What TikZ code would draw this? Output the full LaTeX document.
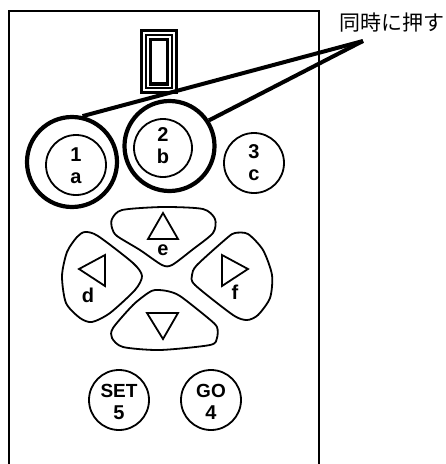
\documentclass[tikz,border=0pt]{standalone}
\usepackage{fontspec}
\usetikzlibrary{calc}
\setmainfont{Liberation Sans}
\newfontfamily\cjk{Noto Sans CJK JP}
\begin{document}
\begin{tikzpicture}[x=1pt,y=-1pt,
  keybtn/.style={circle,draw,line width=1.8pt,inner sep=0pt,minimum size=60pt},
  ring/.style={circle,draw,line width=4.2pt,inner sep=0pt},
  lbl/.style={font=\bfseries\fontsize{20}{20}\selectfont,inner sep=0pt,anchor=base},
  wordlbl/.style={font=\bfseries\fontsize{19}{19}\selectfont,inner sep=0pt,anchor=base},
  pad/.style={draw,line width=1.8pt,line join=round},
  tri/.style={draw,line width=1.8pt,line join=miter},
  callout/.style={line width=4pt},
  frame/.style={line width=2pt}]
\useasboundingbox (0,0) rectangle (446,464);
\clip (0,0) rectangle (446,464);
% body
\draw[frame] (9,470) -- (9,11) -- (319,11) -- (319,470);
% display
\draw[line width=3.2pt] (141.5,30.5) rectangle (176.5,92.5);
\draw[line width=1.2pt] (146,35) rectangle (172,88);
\draw[line width=3.5pt] (150.5,39.5) rectangle (167.5,84);
% buttons 1,2,3
\node[ring,minimum size=90pt] (r1) at (72,162) {};
\node[keybtn] (k1) at (76,165) {};
\node[lbl] (t1) at ($(k1)+(0,-4)$) {1};
\node[lbl] (s1) at ($(k1)+(0,18)$) {a};
\node[ring,minimum size=90pt] (r2) at (169.5,146) {};
\node[keybtn,minimum size=58pt] (k2) at (163,148) {};
\node[lbl] (t2) at ($(k2)+(0,-7)$) {2};
\node[lbl] (s2) at ($(k2)+(0,15)$) {b};
\node[keybtn] (k3) at (254,163) {};
\node[lbl] (t3) at ($(k3)+(0,-5)$) {3};
\node[lbl] (s3) at ($(k3)+(0,17)$) {c};
% SET / GO
\node[keybtn] (k5) at (119,400) {};
\node[wordlbl] (t5) at ($(k5)+(0,-3)$) {SET};
\node[lbl] (s5) at ($(k5)+(0,19)$) {5};
\node[keybtn] (k4) at (211,400) {};
\node[wordlbl] (t4) at ($(k4)+(0,-3)$) {GO};
\node[lbl] (s4) at ($(k4)+(0,19)$) {4};
% callout
\node[font=\cjk\fontsize{21}{21}\selectfont,inner sep=0pt] (note) at (392,23) {同時に押す};
\coordinate (tip) at (363,41);
\draw[callout] (tip) -- (r1.77);
\draw[callout] (tip) -- (r2.33);
% d-pad
\draw[pad] plot[smooth cycle,tension=0.45] coordinates {(112,219) (122,210) (163,207) (203,209) (215,219) (213,233) (192,250) (172,265) (162,265) (140,250) (117,236) (112,228)};
\draw[pad] plot[smooth cycle,tension=0.45] coordinates {(85,232) (98,236) (133,263) (142,276) (135,290) (110,313) (92,322) (80,318) (66,303) (62,276) (67,252) (77,237)};
\draw[pad] plot[smooth cycle,tension=0.45] coordinates {(235,233) (248,234) (263,250) (272,275) (270,298) (258,315) (247,320) (233,315) (195,285) (192,275) (197,265) (227,238)};
\draw[pad] plot[smooth cycle,tension=0.45] coordinates {(155,290) (167,291) (180,296) (208,318) (217,327) (217,338) (210,345) (160,350) (123,347) (112,338) (113,328) (133,305) (148,293)};
% arrows
\draw[tri] (163,213) -- (178,239) -- (148,239) -- cycle;
\draw[tri] (79,269) -- (105,255) -- (105,286) -- cycle;
\draw[tri] (248,269) -- (222,255) -- (222,286) -- cycle;
\draw[tri] (163,339) -- (147,313) -- (178,313) -- cycle;
\node[lbl,anchor=center] (le) at (163,250) {e};
\node[lbl,anchor=center] (ld) at (88,295) {d};
\node[lbl,anchor=center] (lf) at (235,292) {f};
\end{tikzpicture}
\end{document}
